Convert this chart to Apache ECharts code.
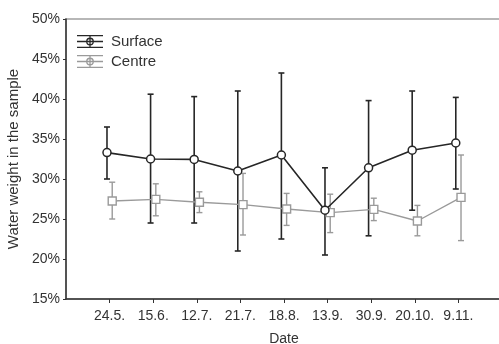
<!DOCTYPE html>
<html>
<head>
<meta charset="utf-8">
<script src="https://cdn.jsdelivr.net/npm/echarts@6/dist/echarts.min.js"></script>
<style>
  html, body { margin: 0; padding: 0; background: #fff; }
  #chart { width: 499px; height: 344px; }
</style>
</head>
<body>
<div id="chart"></div>
<script>
// sampling dates
const dates = ['24.5.', '15.6.', '12.7.', '21.7.', '18.8.', '13.9.', '30.9.', '20.10.', '9.11.'];

// surface: mean, lower and upper end of the error bar (%)
const surfaceMean = [33.3, 32.5, 32.45, 31.0, 33.0, 26.1, 31.4, 33.6, 34.5];
const surfaceLow = [30.0, 24.5, 24.5, 21.0, 22.5, 20.5, 22.9, 26.1, 28.75];
const surfaceHigh = [36.5, 40.6, 40.3, 41.0, 43.25, 31.4, 39.8, 41.0, 40.2];

// centre
const centreMean = [27.25, 27.45, 27.1, 26.8, 26.25, 25.8, 26.2, 24.75, 27.7];
const centreLow = [25.0, 25.4, 25.8, 23.0, 24.2, 23.3, 24.8, 22.9, 22.3];
const centreHigh = [29.6, 29.4, 28.4, 30.7, 28.2, 28.1, 27.6, 26.7, 33.0];

const yTicks = [15, 20, 25, 30, 35, 40, 45, 50];

const positions = dates.map((d, i) => i + 1);
const dodge = 0.06; // the two series are drawn slightly apart

const dark = '#262626';
const grey = '#9a9a9a';
const textColor = '#333';

const legendIcon = 'path://M0 0H26V1.3H0Z M0 5.85H26V7.15H0Z M0 11.7H26V13H0Z M12.35 0H13.65V13H12.35Z ' +
  'M16.9 6.5A3.9 3.9 0 1 1 9.1 6.5A3.9 3.9 0 1 1 16.9 6.5Z M15.6 6.5A2.6 2.6 0 1 0 10.4 6.5A2.6 2.6 0 1 0 15.6 6.5Z';

function errorBars(color, width) {
  return function (params, api) {
    const x = api.value(0);
    const top = api.coord([x, api.value(2)]);
    const bottom = api.coord([x, api.value(1)]);
    const hw = 3;
    const style = { stroke: color, lineWidth: width };
    return {
      type: 'group',
      children: [
        { type: 'line', shape: { x1: top[0], y1: top[1], x2: bottom[0], y2: bottom[1] }, style: style },
        { type: 'line', shape: { x1: top[0] - hw, y1: top[1], x2: top[0] + hw, y2: top[1] }, style: style },
        { type: 'line', shape: { x1: bottom[0] - hw, y1: bottom[1], x2: bottom[0] + hw, y2: bottom[1] }, style: style }
      ]
    }
  }
}

const chart = echarts.init(document.getElementById('chart'));
const option = {
  animation: false,
  textStyle: { fontFamily: 'Liberation Sans, Arial, sans-serif', color: textColor },
  grid: {
    left: 66,
    top: 19,
    width: 436,
    height: 280,
    outerBoundsMode: 'none',
    containLabel: false,
    show: true,
    borderColor: '#a0a0a0',
    borderWidth: 1.5
  },
  legend: {
    data: [
      { name: 'Surface', itemStyle: { color: dark, borderWidth: 0 } },
      { name: 'Centre', itemStyle: { color: grey, borderWidth: 0 } }
    ],
    orient: 'vertical',
    left: 77,
    top: 34,
    padding: 0,
    icon: legendIcon,
    itemWidth: 26,
    itemHeight: 13,
    itemGap: 5,
    textStyle: { fontSize: 15, color: textColor, padding: [1, 0, 0, 3], fontFamily: 'Liberation Sans, Arial, sans-serif' }
  },
  xAxis: {
    type: 'value',
    min: 0,
    max: 10,
    interval: 1,
    name: 'Date',
    nameLocation: 'middle',
    nameGap: 33,
    nameTextStyle: { fontSize: 14, color: textColor },
    axisLine: { lineStyle: { color: '#333', width: 1.5 } },
    axisTick: { customValues: positions, length: 4, lineStyle: { color: '#333' } },
    axisLabel: {
      customValues: positions,
      fontSize: 14,
      color: textColor,
      margin: 10,
      formatter: v => dates[v - 1] || ''
    },
    splitLine: { show: false }
  },
  yAxis: {
    type: 'value',
    min: 15,
    max: 50,
    interval: 5,
    name: 'Water weight in the sample',
    nameLocation: 'middle',
    nameGap: 42,
    nameTextStyle: { fontSize: 15, color: textColor },
    axisLine: { show: true, lineStyle: { color: '#333', width: 1.5 } },
    axisTick: { show: true, length: 3, lineStyle: { color: '#333' } },
    axisLabel: { fontSize: 14, color: textColor, margin: 6, formatter: v => yTicks.includes(v) ? v + '%' : '' },
    splitLine: { show: false }
  },
  series: [
    {
      name: 'Surface bars',
      type: 'custom',
      renderItem: errorBars(dark, 1.6),
      encode: { x: 0, y: [1, 2] },
      data: positions.map((p, i) => [p - dodge, surfaceLow[i], surfaceHigh[i]]),
      z: 2
    },
    {
      name: 'Centre bars',
      type: 'custom',
      renderItem: errorBars(grey, 1.4),
      encode: { x: 0, y: [1, 2] },
      data: positions.map((p, i) => [p + dodge, centreLow[i], centreHigh[i]]),
      z: 1
    },
    {
      name: 'Centre',
      type: 'line',
      symbol: 'rect',
      symbolSize: 8,
      itemStyle: { color: '#fff', borderColor: grey, borderWidth: 1.4 },
      lineStyle: { color: grey, width: 1.4 },
      data: positions.map((p, i) => [p + dodge, centreMean[i]]),
      z: 3
    },
    {
      name: 'Surface',
      type: 'line',
      symbol: 'circle',
      symbolSize: 8,
      itemStyle: { color: '#fff', borderColor: dark, borderWidth: 1.5 },
      lineStyle: { color: dark, width: 1.6 },
      data: positions.map((p, i) => [p - dodge, surfaceMean[i]]),
      z: 4
    }
  ]
}
option && chart.setOption(option);
</script>
</body>
</html>
